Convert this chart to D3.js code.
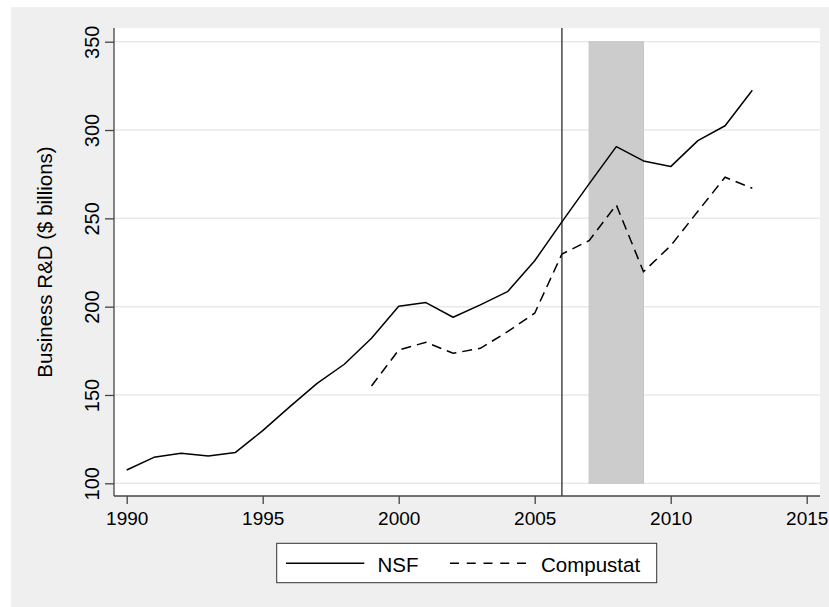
<!DOCTYPE html>
<html>
<head>
<meta charset="utf-8">
<script src="https://cdn.jsdelivr.net/npm/d3@7"></script>
<style>
  html, body { margin: 0; padding: 0; background: #ffffff; }
  svg { display: block; font-family: "Liberation Sans", Arial, Helvetica, sans-serif; }
</style>
</head>
<body>
<svg id="chart" width="829" height="607"></svg>
<script>
// ---- data ----
const nsfYears = [1990,1991,1992,1993,1994,1995,1996,1997,1998,1999,2000,2001,2002,2003,2004,2005,2006,2007,2008,2009,2010,2011,2012,2013];
const nsfValues = [107.5,114.7,117,115.5,117.5,129.8,143.4,156.6,167.4,182.1,200.2,202.3,194,201,208.5,226,248,269.5,290.6,282.5,279.3,294,302.4,322.5];
const compYears = [1999,2000,2001,2002,2003,2004,2005,2006,2007,2008,2009,2010,2011,2012,2013];
const compValues = [155.1,175.5,179.8,173.6,176.4,185.8,196.3,229.8,237.4,257.6,219.8,234.5,254,273.3,267];
const xTicks = [1990,1995,2000,2005,2010,2015];
const yTicks = [100,150,200,250,300,350];
const vLineYear = 2006;
const bandYears = [2007, 2009];
const seriesNames = ["NSF", "Compustat"];
const yTitle = "Business R&D ($ billions)";

// ---- layout ----
const svg = d3.select("#chart");
const plot = {left: 114, right: 820, top: 28, bottom: 496};
const x = d3.scaleLinear().domain([1990, 2015]).range([126.7, 806.7]);
const y = d3.scaleLinear().domain([100, 350]).range([483.3, 41.7]);

// outer background
svg.append("rect").attr("x", 11).attr("y", 7).attr("width", 829 - 11).attr("height", 607 - 7).attr("fill", "#efefef");
// plot region
svg.append("rect").attr("x", plot.left).attr("y", plot.top)
  .attr("width", plot.right - plot.left).attr("height", plot.bottom - plot.top).attr("fill", "#ffffff");

// gridlines
svg.append("g").selectAll("line").data(yTicks).join("line")
  .attr("x1", plot.left).attr("x2", plot.right)
  .attr("y1", d => y(d)).attr("y2", d => y(d))
  .attr("stroke", "#e9e9e9").attr("stroke-width", 1.5);

// shaded band
svg.append("rect")
  .attr("x", x(bandYears[0])).attr("y", y(350))
  .attr("width", x(bandYears[1]) - x(bandYears[0]))
  .attr("height", y(100) - y(350))
  .attr("fill", "#cccccc").attr("stroke", "#c6c6c6").attr("stroke-width", 1);

// vertical line
svg.append("line")
  .attr("x1", x(vLineYear)).attr("x2", x(vLineYear))
  .attr("y1", plot.top).attr("y2", plot.bottom)
  .attr("stroke", "#3a3a3a").attr("stroke-width", 1.4);

// lines
const line = d3.line().x(d => x(d[0])).y(d => y(d[1]));
const nsfData = nsfYears.map((yr, i) => [yr, nsfValues[i]]);
const compData = compYears.map((yr, i) => [yr, compValues[i]]);
svg.append("path").datum(nsfData).attr("d", line)
  .attr("fill", "none").attr("stroke", "#000").attr("stroke-width", 1.5).attr("stroke-linejoin", "round");
svg.append("path").datum(compData).attr("d", line)
  .attr("fill", "none").attr("stroke", "#000").attr("stroke-width", 1.5)
  .attr("stroke-dasharray", "10,6");

// axes
const axisColor = "#444";
const xAxis = svg.append("g").attr("transform", `translate(0,${plot.bottom})`)
  .call(d3.axisBottom(x).tickValues(xTicks).tickFormat(d3.format("d")).tickSize(8).tickPadding(6));
xAxis.select(".domain").remove();
xAxis.append("line").attr("x1", plot.left).attr("x2", plot.right).attr("y1", 0).attr("y2", 0)
  .attr("stroke", axisColor).attr("stroke-width", 1.3);
xAxis.selectAll(".tick line").attr("stroke", axisColor).attr("stroke-width", 1.3);
xAxis.selectAll(".tick text").attr("font-size", 19).attr("fill", "#000")
  .attr("font-family", "'Liberation Sans', Arial, sans-serif")
  .attr("dy", null).attr("y", 29);

const yAxis = svg.append("g").attr("transform", `translate(${plot.left},0)`)
  .call(d3.axisLeft(y).tickValues(yTicks).tickFormat(d3.format("d")).tickSize(9));
yAxis.select(".domain").remove();
yAxis.append("line").attr("x1", 0).attr("x2", 0).attr("y1", plot.top).attr("y2", plot.bottom)
  .attr("stroke", axisColor).attr("stroke-width", 1.3);
yAxis.selectAll(".tick line").attr("stroke", axisColor).attr("stroke-width", 1.3);
yAxis.selectAll(".tick text").attr("font-size", 20).attr("fill", "#000")
  .attr("font-family", "'Liberation Sans', Arial, sans-serif")
  .attr("x", null).attr("dy", null)
  .attr("text-anchor", "middle")
  .attr("transform", "translate(-15,0) rotate(-90)");

// y title
svg.append("text")
  .attr("transform", `translate(51.5,${(plot.top + plot.bottom) / 2}) rotate(-90)`)
  .attr("text-anchor", "middle").attr("font-size", 20.5).attr("fill", "#000")
  .text(yTitle);

// legend
const lg = svg.append("g");
lg.append("rect").attr("x", 276.7).attr("y", 543.3).attr("width", 380).attr("height", 39.4)
  .attr("fill", "#fff").attr("stroke", "#333").attr("stroke-width", 1);
lg.append("line").attr("x1", 286).attr("x2", 364.3).attr("y1", 563.3).attr("y2", 563.3)
  .attr("stroke", "#000").attr("stroke-width", 1.5);
lg.append("text").attr("x", 377.5).attr("y", 572).attr("font-size", 20.5).attr("fill", "#000").text(seriesNames[0]);
lg.append("line").attr("x1", 450).attr("x2", 526).attr("y1", 563.3).attr("y2", 563.3)
  .attr("stroke", "#000").attr("stroke-width", 1.5).attr("stroke-dasharray", "9,7.75");
lg.append("text").attr("x", 541).attr("y", 572).attr("font-size", 20.5).attr("fill", "#000").text(seriesNames[1]);
</script>
</body>
</html>
